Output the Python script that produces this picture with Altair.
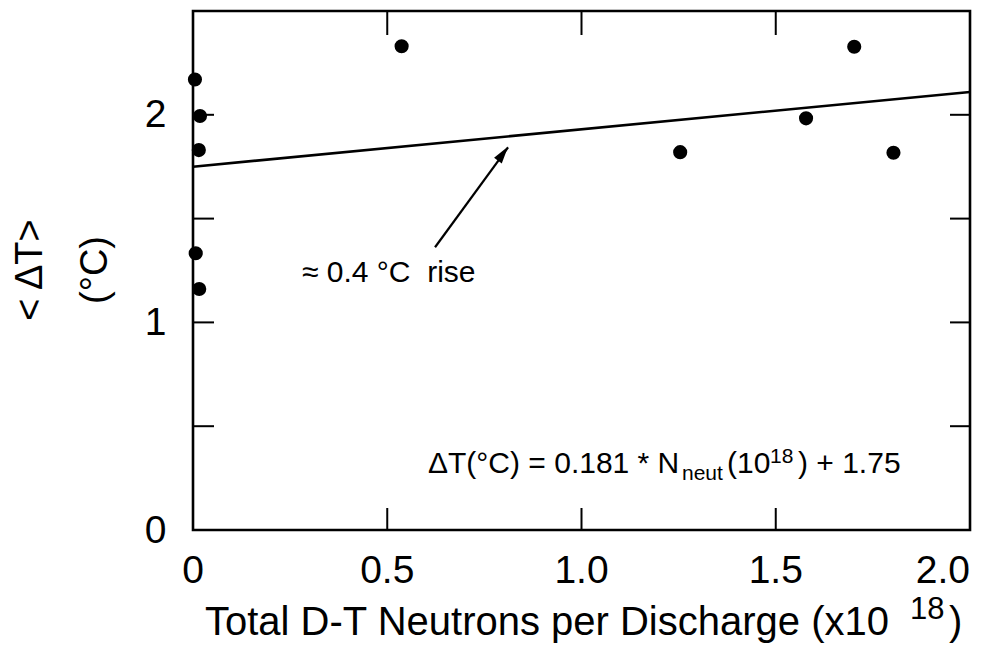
import altair as alt
import pandas as pd

# ---- data ----
pt_x = [0.005, 0.018, 0.015, 0.007, 0.016, 0.537, 1.254, 1.578, 1.702, 1.803]
pt_y = [2.17, 1.994, 1.83, 1.333, 1.161, 2.33, 1.82, 1.983, 2.328, 1.817]

fit_x = [0.0, 2.0]
fit_y = [1.75, 2.11]

arrow_tail = [0.623, 1.362]
arrow_tip = [0.811, 1.843]
arrow_head_center = [0.798, 1.813]

x_tick_vals = [0.5, 1.0, 1.5]
y_tick_vals = [0.5, 1.0, 1.5, 2.0]
x_label_vals = [0, 0.5, 1.0, 1.5]
x_label_last = [2.0]
y_label_vals = [0, 1, 2]

W, H = 777, 519
FONT = "Liberation Sans"

xs = alt.Scale(domain=[0, 2], nice=False, zero=False)
ys = alt.Scale(domain=[0, 2.5], nice=False, zero=False)

y_axis = alt.Axis(
    values=y_label_vals, format="d",
    labelOverlap=False,
    ticks=False, tickSize=0, domain=False, grid=False,
    labelFontSize=39, labelPadding=27, labelFont=FONT, labelColor="black",
    title=None,
)

X = lambda f="x": alt.X(f"{f}:Q", scale=xs, axis=None)
Y = lambda f="y": alt.Y(f"{f}:Q", scale=ys, axis=y_axis)

pts = pd.DataFrame({"x": pt_x, "y": pt_y})
points = alt.Chart(pts).mark_circle(size=200, color="black", opacity=1).encode(x=X(), y=Y())

fit = alt.Chart(pd.DataFrame({"x": fit_x, "y": fit_y})).mark_line(
    color="black", strokeWidth=2.6
).encode(x=X(), y=Y())

shaft = alt.Chart(pd.DataFrame({
    "x": [arrow_tail[0]], "y": [arrow_tail[1]],
    "x2": [arrow_tip[0]], "y2": [arrow_tip[1]],
})).mark_rule(color="black", strokeWidth=2.2).encode(
    x=X(), y=Y(), x2="x2:Q", y2="y2:Q",
)

head = alt.Chart(pd.DataFrame({"x": [arrow_head_center[0]], "y": [arrow_head_center[1]]})).mark_point(
    shape="M0,-1L0.55,1L-0.55,1Z", angle=36, size=300, filled=True, color="black", opacity=1
).encode(x=X(), y=Y())

xt = pd.DataFrame({"x": x_tick_vals})
yt = pd.DataFrame({"y": y_tick_vals})
bottom_ticks = alt.Chart(xt).mark_rule(color="black", strokeWidth=2).encode(
    x=X(), y=alt.value(H), y2=alt.value(H - 22))
top_ticks = alt.Chart(xt).mark_rule(color="black", strokeWidth=2).encode(
    x=X(), y=alt.value(0), y2=alt.value(24))
left_ticks = alt.Chart(yt).mark_rule(color="black", strokeWidth=2).encode(
    y=Y(), x=alt.value(0), x2=alt.value(21))
right_ticks = alt.Chart(yt).mark_rule(color="black", strokeWidth=2).encode(
    y=Y(), x=alt.value(W), x2=alt.value(W - 20))

LABEL_EXPR = "datum.x == 0 ? '0' : format(datum.x, '.1f')"
x_labels = alt.Chart(pd.DataFrame({"x": x_label_vals})).transform_calculate(
    lab=LABEL_EXPR
).mark_text(fontSize=39, font=FONT, align="center", baseline="alphabetic", color="black").encode(
    x=X(), y=alt.value(572), text="lab:N")
x_label_end = alt.Chart(pd.DataFrame({"x": x_label_last})).transform_calculate(
    lab=LABEL_EXPR
).mark_text(fontSize=39, font=FONT, align="right", baseline="alphabetic", color="black").encode(
    x=X(), y=alt.value(572), text="lab:N")


def label(text, x, y, size, align="left", angle=0, baseline="alphabetic"):
    return alt.Chart(pd.DataFrame({"v": [0]})).mark_text(
        text=text, fontSize=size, font=FONT, align=align, baseline=baseline,
        angle=angle, color="black"
    ).encode(x=alt.value(x), y=alt.value(y))


texts = [
    label("\u2248 0.4 \u00b0C\u00a0 rise", 109, 271, 30),
    label("\u0394T(\u00b0C) = 0.181 * N", 235, 462, 30),
    label("neut", 489, 469, 21),
    label("(10", 534, 462, 30),
    label("18", 577, 452, 21),
    label(") + 1.75", 605, 462, 30),
    # x title
    label("Total D-T Neutrons per Discharge (x10", 12, 624, 40),
    label("18", 717, 608, 31),
    label(")", 756, 624, 40),
    # y title
    label("< \u0394T>", -151, 259, 38, align="center", angle=270),
    label("(\u00b0C)", -86, 259, 38, align="center", angle=270),
]

chart = alt.layer(
    bottom_ticks, top_ticks, left_ticks, right_ticks,
    fit, shaft, head, points, x_labels, x_label_end, *texts
).properties(
    width=W, height=H,
    padding={"left": 185, "top": 3, "right": 16, "bottom": 114},
    autosize=alt.AutoSizeParams(type="none"),
    background="white",
).configure_view(
    stroke="black", strokeWidth=2.6
)

chart.save("out.html", embed_options={"renderer": "svg", "actions": False})
